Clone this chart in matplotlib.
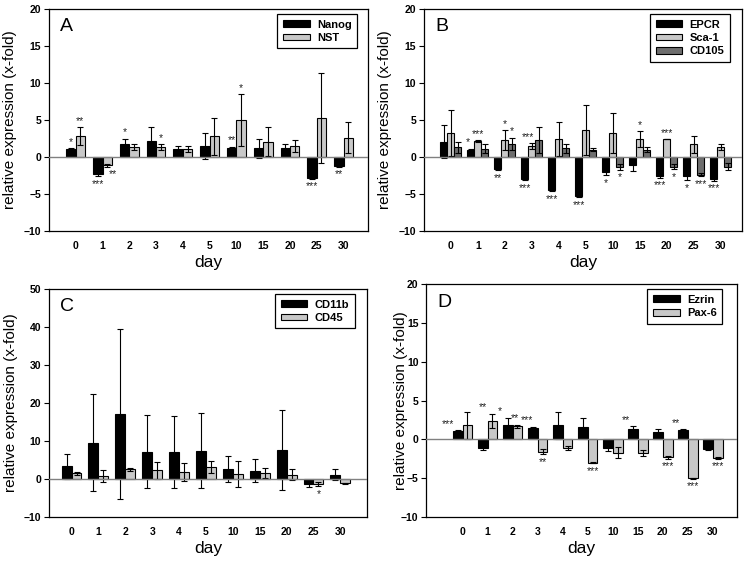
import matplotlib
matplotlib.use('Agg')
import matplotlib.pyplot as plt
import numpy as np

plt.rcParams['font.family'] = ['Liberation Sans', 'DejaVu Sans']

days = ['0', '1', '2', '3', '4', '5', '10', '15', '20', '25', '30']

# panel A
nanog = [1.1, -2.3, 1.8, 2.2, 1.1, 1.5, 1.2, 1.2, 1.2, -2.8, -1.2]
nanog_err = [0.1, 0.3, 0.7, 1.9, 0.4, 1.7, 0.2, 1.3, 0.6, 0.1, 0.1]
nst = [2.8, -1.1, 1.3, 1.3, 1.1, 2.8, 5.0, 2.1, 1.5, 5.3, 2.6]
nst_err = [1.2, 0.2, 0.4, 0.4, 0.4, 2.5, 3.5, 2.0, 0.8, 6.1, 2.1]
stars_a = [(0, 0, '*'), (1, 0, '**'), (0, 1, '***'), (1, 1, '**', 0.6), (0, 2, '*'),
           (1, 3, '*'), (0, 6, '**'), (1, 6, '*'), (0, 9, '***'), (0, 10, '**')]

# panel B
epcr = [2.1, 1.0, -1.6, -3.0, -4.5, -5.3, -2.0, -1.1, -2.6, -2.6, -2.9]
epcr_err = [2.2, 0.1, 0.2, 0.1, 0.1, 0.1, 0.4, 0.8, 0.2, 0.5, 0.3]
sca1 = [3.3, 2.2, 2.3, 1.5, 2.4, 3.7, 3.3, 2.4, 2.4, 1.7, 1.3]
sca1_err = [3.1, 0.1, 1.3, 0.4, 2.3, 3.4, 2.7, 1.1, 0.0, 1.1, 0.4]
cd105 = [1.3, 1.1, 1.8, 2.3, 1.2, 1.0, -1.3, 1.0, -1.3, -2.4, -1.3]
cd105_err = [0.7, 0.6, 0.8, 1.8, 0.6, 0.2, 0.4, 0.3, 0.3, 0.2, 0.5]
stars_b = [(0, 1, '*', -0.4), (1, 1, '***'), (1, 2, '*'), (2, 2, '*'), (0, 2, '**'),
           (1, 3, '***', -0.5), (0, 3, '***'), (0, 4, '***'), (0, 5, '***'), (0, 6, '*'),
           (2, 6, '*'), (1, 7, '*'), (1, 8, '***'), (0, 8, '***'), (2, 8, '*'),
           (0, 9, '*'), (2, 9, '***'), (0, 10, '***')]

# panel C
cd11b = [3.3, 9.6, 17.2, 7.2, 7.0, 7.4, 2.6, 2.2, 7.6, -1.3, 1.1]
cd11b_err = [3.3, 12.7, 22.4, 9.6, 9.5, 9.9, 3.5, 3.0, 10.6, 0.7, 1.5]
cd45 = [1.5, 0.8, 2.6, 2.3, 1.8, 3.2, 1.3, 1.5, 1.1, -1.3, -1.1]
cd45_err = [0.4, 1.5, 0.4, 2.2, 2.3, 1.6, 3.4, 1.3, 1.5, 0.6, 0.1]
stars_c = [(1, 9, '*')]

# panel D
ezrin = [1.1, -1.1, 1.9, 1.5, 1.8, 1.6, -1.1, 1.4, 1.0, 1.2, -1.2]
ezrin_err = [0.1, 0.3, 0.9, 0.1, 1.7, 1.2, 0.4, 0.3, 0.4, 0.1, 0.2]
pax6 = [1.8, 2.4, 1.7, -1.6, -1.1, -3.0, -1.7, -1.8, -2.3, -5.0, -2.4]
pax6_err = [1.7, 0.9, 0.2, 0.3, 0.3, 0.1, 0.7, 0.4, 0.2, 0.05, 0.1]
stars_d = [(0, 0, '***', -1.0), (1, 1, '**', -1.0), (0, 2, '*', -0.8), (1, 2, '**', -0.3),
           (0, 3, '***', -0.55), (1, 3, '**'), (1, 5, '***'), (0, 7, '**', -0.7),
           (1, 8, '***'), (0, 9, '**', -0.7), (1, 9, '***'), (1, 10, '***')]

BLACK = '#000000'
LIGHT = '#c8c8c8'
DARK = '#6e6e6e'
W, H = 753, 565


def panel(ax, letter, names, vals, errs, colors, width, ylim, ystep, xlim, stars,
          label_x, leg_gap):
    x = np.arange(len(days))
    n = len(vals)
    offs = (np.arange(n) - (n - 1) / 2) * width
    for v, e, c, nm, o in zip(vals, errs, colors, names, offs):
        ax.bar(x + o, v, width, color=c, edgecolor='black', linewidth=0.8, label=nm, zorder=2)
        ax.errorbar(x + o, v, yerr=e, fmt='none', ecolor='black', elinewidth=0.8,
                    capsize=2.5, capthick=0.8, zorder=3)
    ax.axhline(0, color='#808080', linewidth=1, zorder=4)
    for s in stars:
        i, d, txt = s[0], s[1], s[2]
        dx = s[3] if len(s) > 3 else 0
        v = vals[i][d]
        e = errs[i][d]
        xp = x[d] + offs[i] + dx * width
        if v >= 0:
            ax.annotate(txt, (xp, v + e), xytext=(0, 1), textcoords='offset points',
                        ha='center', va='bottom', fontsize=7.5, color='#222222')
        else:
            ax.annotate(txt, (xp, v - e), xytext=(0, -2), textcoords='offset points',
                        ha='center', va='top', fontsize=7.5, color='#222222')
    ax.set_xlim(*xlim)
    ax.set_ylim(*ylim)
    ax.set_yticks(np.arange(ylim[0], ylim[1] + 0.1, ystep))
    ax.set_xticks(x)
    ax.set_xticklabels(days)
    ax.tick_params(axis='x', length=0, pad=7, labelsize=7.5)
    ax.tick_params(axis='y', length=3.5, width=0.8, pad=2, labelsize=7.5)
    for lab in ax.get_xticklabels() + ax.get_yticklabels():
        lab.set_fontweight('bold')
    for sp in ax.spines.values():
        sp.set_linewidth(0.9)
    ax.set_xlabel('day', fontsize=12.5, labelpad=3)
    ax.set_ylabel('relative expression (x-fold)', fontsize=11)
    pos = ax.get_position()
    aw, ah = pos.width * W, pos.height * H
    ax.yaxis.set_label_coords((label_x - pos.x0 * W) / aw, 0.5)
    ax.text(0.035, 0.96, letter, transform=ax.transAxes, fontsize=14, ha='left', va='top')
    leg = ax.legend(loc='upper right', bbox_to_anchor=(1 - leg_gap / aw, 1 - 5 / ah),
                    borderaxespad=0, fancybox=False, edgecolor='black', framealpha=1,
                    prop={'weight': 'bold', 'size': 8}, handlelength=2.4, handleheight=0.55,
                    handletextpad=0.65, borderpad=0.5, labelspacing=0.3)
    leg.get_frame().set_linewidth(0.9)


fig = plt.figure(figsize=(7.53, 5.65), dpi=100)
ax_a = fig.add_axes([0.065, 0.591, 0.424, 0.393])
ax_b = fig.add_axes([0.563, 0.591, 0.422, 0.393])
ax_c = fig.add_axes([0.065, 0.085, 0.422, 0.4035])
ax_d = fig.add_axes([0.566, 0.085, 0.413, 0.412])

panel(ax_a, 'A', ['Nanog', 'NST'], [nanog, nst], [nanog_err, nst_err],
      [BLACK, LIGHT], 0.35, (-10, 20), 5, (-1.0, 10.92), stars_a, 17, 11)
panel(ax_b, 'B', ['EPCR', 'Sca-1', 'CD105'], [epcr, sca1, cd105],
      [epcr_err, sca1_err, cd105_err], [BLACK, LIGHT, DARK], 0.26, (-10, 20), 5,
      (-1.0, 10.78), stars_b, 392, 12)
panel(ax_c, 'C', ['CD11b', 'CD45'], [cd11b, cd45], [cd11b_err, cd45_err],
      [BLACK, LIGHT], 0.37, (-10, 50), 10, (-0.84, 10.98), stars_c, 18, 12)
panel(ax_d, 'D', ['Ezrin', 'Pax-6'], [ezrin, pax6], [ezrin_err, pax6_err],
      [BLACK, LIGHT], 0.39, (-10, 20), 5, (-1.45, 10.97), stars_d, 408, 15)

fig.savefig('out.png', dpi=100)
